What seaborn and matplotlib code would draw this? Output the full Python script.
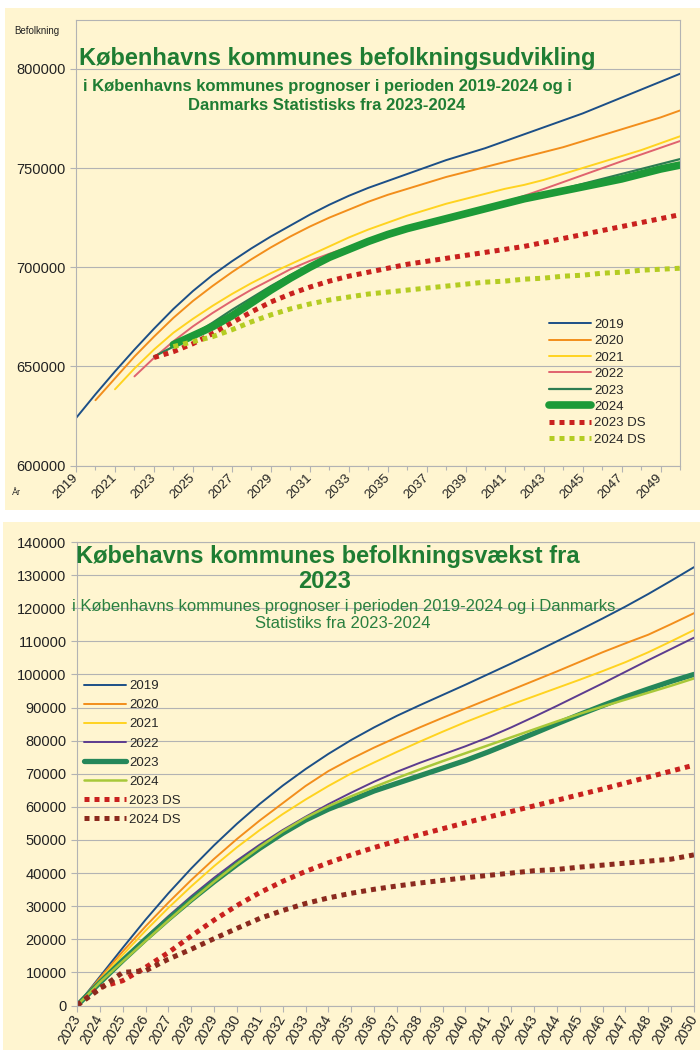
import matplotlib
matplotlib.use("Agg")
import matplotlib.pyplot as plt
import seaborn as sns
from matplotlib.patches import Rectangle
from matplotlib.ticker import FuncFormatter, MultipleLocator

# ---------------- data: top chart (population forecasts) ----------------
top_start = {"2019": 2019, "2020": 2020, "2021": 2021, "2022": 2022,
             "2023": 2023, "2024": 2024, "2023 DS": 2023, "2024 DS": 2024}
top_2019 = [624000, 636000, 647500, 658500, 669000, 679000, 688000, 696000, 703000, 709500,
            715500, 721000, 726500, 731500, 736000, 740000, 743500, 747000, 750500, 754000,
            757000, 760000, 763500, 767000, 770500, 774000, 777500, 781500, 785500, 789500,
            793500, 797500]
top_2020 = [633000, 644000, 655000, 665000, 674500, 683000, 690500, 697500, 704000, 710000,
            715500, 720500, 725000, 729000, 733000, 736500, 739500, 742500, 745500, 748000,
            750500, 753000, 755500, 758000, 760500, 763500, 766500, 769500, 772500, 775500,
            779000]
top_2021 = [638500, 649000, 658500, 667000, 674000, 680500, 686500, 692000, 697000, 701500,
            706000, 710500, 715000, 719000, 722500, 726000, 729000, 732000, 734500, 737000,
            739500, 741500, 744000, 747000, 750000, 753000, 756000, 759000, 762500, 766000]
top_2022 = [645000, 654300, 662700, 670200, 676900, 683000, 688700, 693800, 699000, 703200,
            706800, 710200, 713600, 716800, 719700, 722300, 724800, 727300, 729900, 732800,
            736000, 739400, 742900, 746400, 749900, 753400, 756800, 760200, 763600]
top_2023 = [655000, 660000, 666000, 672000, 678500, 684500, 690500, 696000, 701000, 705500,
            709500, 713000, 716500, 719500, 722000, 724500, 727000, 729500, 732000, 734500,
            737000, 739500, 742000, 744500, 747000, 749500, 752000, 754500]
top_2024 = [661000, 665500, 670000, 675500, 682000, 688500, 694500, 700000, 705000, 709000,
            713000, 716500, 719500, 722000, 724500, 727000, 729500, 732000, 734500, 736500,
            738500, 740500, 742500, 744500, 747000, 749500, 751500]
top_2023ds = [654500, 657500, 661500, 666500, 672000, 677500, 682500, 686500, 690000, 693000,
              695500, 697500, 699500, 701500, 703000, 704500, 706000, 707500, 709000, 710500,
              712500, 714500, 716500, 718500, 720500, 722500, 724500, 726500]
top_2024ds = [660000, 662500, 665000, 668500, 672500, 676000, 679000, 681500, 683500, 685000,
              686500, 687500, 688500, 689500, 690500, 691500, 692500, 693000, 694000, 694500,
              695500, 696000, 697000, 697500, 698500, 699000, 699500]

# ---------------- data: bottom chart (growth from 2023) ----------------
bot_years = list(range(2023, 2051))
bot_2019 = [0, 8700, 17400, 25900, 33900, 41400, 48400, 54900, 60900, 66400, 71400, 76000,
            80200, 84000, 87500, 90700, 93800, 96900, 100100, 103300, 106600, 110000, 113400,
            116900, 120500, 124300, 128300, 132400]
bot_2020 = [0, 8300, 16300, 23900, 31100, 37900, 44300, 50300, 55900, 61100, 66300, 70800,
            74500, 77900, 81000, 84000, 86900, 89700, 92500, 95300, 98100, 100900, 103800,
            106700, 109400, 112000, 115200, 118500]
bot_2021 = [0, 7700, 15300, 22600, 29500, 36000, 42100, 47800, 53000, 57800, 62200, 66300,
            70100, 73400, 76600, 79700, 82700, 85600, 88300, 90900, 93400, 95900, 98400,
            101000, 103700, 106700, 110000, 113400]
bot_2022 = [0, 7000, 13900, 20600, 27000, 33000, 38600, 43800, 48600, 53000, 57000, 60800,
            64300, 67600, 70600, 73300, 75800, 78300, 81000, 84000, 87200, 90500, 93900,
            97300, 100800, 104300, 107700, 111100]
bot_2023 = [0, 6900, 13600, 20000, 26100, 31900, 37400, 42600, 47500, 52000, 56000, 59300,
            62000, 64800, 67100, 69400, 71700, 74000, 76600, 79400, 82200, 85100, 87900,
            90600, 93200, 95600, 97900, 100000]
bot_2024 = [0, 7000, 13300, 19500, 25700, 31700, 37400, 42800, 47900, 52600, 56700, 60200,
            63200, 66000, 68700, 71300, 73800, 76200, 78600, 81000, 83400, 85800, 88100,
            90300, 92400, 94500, 96600, 98800]
bot_2023ds = [0, 5500, 7500, 11500, 16000, 21000, 25800, 30200, 34100, 37500, 40500, 43100,
              45500, 47700, 49700, 51600, 53400, 55200, 56900, 58600, 60300, 62000, 63700,
              65400, 67200, 69000, 70800, 72600]
bot_2024ds = [0, 5000, 10000, 10500, 14000, 17000, 20200, 23300, 26300, 28700, 30800, 32500,
              33900, 35100, 36100, 37000, 37800, 38600, 39300, 40000, 40700, 41100, 41800,
              42400, 43000, 43600, 44200, 45500]

top_labels = ["2019", "2020", "2021", "2022", "2023", "2024", "2023 DS", "2024 DS"]
top_values = [top_2019, top_2020, top_2021, top_2022, top_2023, top_2024, top_2023ds, top_2024ds]
bot_labels = ["2019", "2020", "2021", "2022", "2023", "2024", "2023 DS", "2024 DS"]
bot_values = [bot_2019, bot_2020, bot_2021, bot_2022, bot_2023, bot_2024, bot_2023ds, bot_2024ds]

# ---------------- styles ----------------
CREAM = "#fff5d0"
GRID = "#b3b3b3"
GREEN_T = "#1f7d33"
DOT = (0, (1, 1))
top_styles = [
    dict(color="#1c4f87", lw=1.4, ls="-"),
    dict(color="#f28e1c", lw=1.4, ls="-"),
    dict(color="#ffd320", lw=1.4, ls="-"),
    dict(color="#e0636e", lw=1.4, ls="-"),
    dict(color="#2d7d52", lw=1.6, ls="-"),
    dict(color="#1d9a38", lw=5.5, ls="-"),
    dict(color="#c9211e", lw=3.6, ls=DOT),
    dict(color="#b4cc22", lw=3.6, ls=DOT),
]
bot_styles = [
    dict(color="#1c4f87", lw=1.4, ls="-"),
    dict(color="#f28e1c", lw=1.4, ls="-"),
    dict(color="#ffd320", lw=1.4, ls="-"),
    dict(color="#5c3c8f", lw=1.4, ls="-"),
    dict(color="#25875a", lw=3.8, ls="-"),
    dict(color="#a8c83a", lw=1.8, ls="-"),
    dict(color="#c9211e", lw=3.6, ls=DOT),
    dict(color="#8b2a1e", lw=3.6, ls=DOT),
]

sns.set_style("ticks")
plt.rcParams["font.family"] = ["Liberation Sans", "DejaVu Sans"]

W, H = 700, 1050


def fx(px):
    return px / W


def fy(py):
    return 1 - py / H


fig = plt.figure(figsize=(7, 10.5), dpi=100, facecolor="white")
fig.patches.append(Rectangle((fx(5), fy(510)), fx(695), 502 / H, transform=fig.transFigure,
                             facecolor=CREAM, edgecolor="none", zorder=-10))
fig.patches.append(Rectangle((fx(3), 0), fx(697), 528 / H, transform=fig.transFigure,
                             facecolor=CREAM, edgecolor="none", zorder=-10))


def style_axes(ax):
    ax.set_facecolor(CREAM)
    for sp in ax.spines.values():
        sp.set_visible(True)
        sp.set_color(GRID)
        sp.set_linewidth(0.8)
    ax.yaxis.grid(True, color=GRID, lw=0.8)
    ax.xaxis.grid(False)
    ax.set_axisbelow(True)
    ax.tick_params(axis="both", which="both", colors=GRID, labelcolor="#222222",
                   direction="out", width=0.8)
    ax.tick_params(axis="both", which="major", length=4)
    ax.tick_params(axis="x", which="minor", length=3)
    ax.set_xlabel("")
    ax.set_ylabel("")


# ---------------- top chart ----------------
ax1 = fig.add_axes([fx(76), fy(465.7), fx(680) - fx(76), (465.7 - 20) / H])
for lab, vals, st in zip(top_labels, top_values, top_styles):
    xs = list(range(top_start[lab], top_start[lab] + len(vals)))
    sns.lineplot(x=xs, y=vals, ax=ax1, estimator=None, color=st["color"], lw=st["lw"],
                 ls=st["ls"], dash_capstyle="butt", label=lab)
ax1.set_xlim(2019, 2050)
ax1.set_ylim(600000, 824600)
ax1.yaxis.set_major_locator(MultipleLocator(50000))
ax1.yaxis.set_major_formatter(FuncFormatter(lambda v, p: f"{v:.0f}"))
ax1.set_xticks(list(range(2019, 2050, 2)))
ax1.xaxis.set_minor_locator(MultipleLocator(1))
style_axes(ax1)
ax1.tick_params(axis="y", labelsize=10.5)
ax1.tick_params(axis="x", labelsize=9.5)
for t in ax1.get_xticklabels():
    t.set_rotation(45)
    t.set_ha("right")
    t.set_va("center")
    t.set_rotation_mode("anchor")
ax1.legend(loc="upper left", bbox_to_anchor=(fx(549), fy(318.5)), bbox_transform=fig.transFigure,
           frameon=False, fontsize=9.5, handlelength=3.2, handletextpad=0.2,
           labelspacing=0.32, borderpad=0, borderaxespad=0)

fig.text(fx(14), fy(31), "Befolkning", ha="left", va="center", fontsize=7, color="#222222")
fig.text(fx(12), fy(493), "År", ha="left", va="center", fontsize=6.5, color="#222222")
fig.text(fx(337.5), fy(58), "Københavns kommunes befolkningsudvikling", ha="center",
         va="center", fontsize=17, fontweight="bold", color=GREEN_T)
fig.text(fx(327), fy(87), "i Københavns kommunes prognoser i perioden 2019-2024 og i",
         ha="center", va="center", fontsize=12, fontweight="bold", color=GREEN_T)
fig.text(fx(327), fy(106), "Danmarks Statistisks fra 2023-2024",
         ha="center", va="center", fontsize=12, fontweight="bold", color=GREEN_T)

# ---------------- bottom chart ----------------
ax2 = fig.add_axes([fx(77), fy(1005.5), fx(694) - fx(77), (1005.5 - 542) / H])
for lab, vals, st in zip(bot_labels, bot_values, bot_styles):
    sns.lineplot(x=bot_years, y=vals, ax=ax2, estimator=None, color=st["color"], lw=st["lw"],
                 ls=st["ls"], dash_capstyle="butt", label=lab)
ax2.set_xlim(2023, 2050)
ax2.set_ylim(0, 140000)
ax2.yaxis.set_major_locator(MultipleLocator(10000))
ax2.yaxis.set_major_formatter(FuncFormatter(lambda v, p: f"{v:.0f}"))
ax2.set_xticks(bot_years)
style_axes(ax2)
ax2.tick_params(axis="y", labelsize=10.5)
ax2.tick_params(axis="x", labelsize=10)
for t in ax2.get_xticklabels():
    t.set_rotation(60)
    t.set_ha("right")
    t.set_va("center")
    t.set_rotation_mode("anchor")
ax2.legend(loc="upper left", bbox_to_anchor=(fx(84), fy(680)), bbox_transform=fig.transFigure,
           frameon=False, fontsize=9.5, handlelength=3.2, handletextpad=0.2,
           labelspacing=0.52, borderpad=0, borderaxespad=0)

fig.text(fx(327.5), fy(557), "Købehavns kommunes befolkningsvækst fra", ha="center",
         va="center", fontsize=17, fontweight="bold", color=GREEN_T)
fig.text(fx(325), fy(581), "2023", ha="center", va="center", fontsize=17,
         fontweight="bold", color=GREEN_T)
fig.text(fx(343.5), fy(606),
         "i Københavns kommunes prognoser i perioden 2019-2024 og i Danmarks",
         ha="center", va="center", fontsize=12, color="#2a8040")
fig.text(fx(343), fy(624), "Statistiks fra 2023-2024", ha="center", va="center",
         fontsize=12, color="#2a8040")

fig.savefig("out.png", dpi=100, facecolor="white")
